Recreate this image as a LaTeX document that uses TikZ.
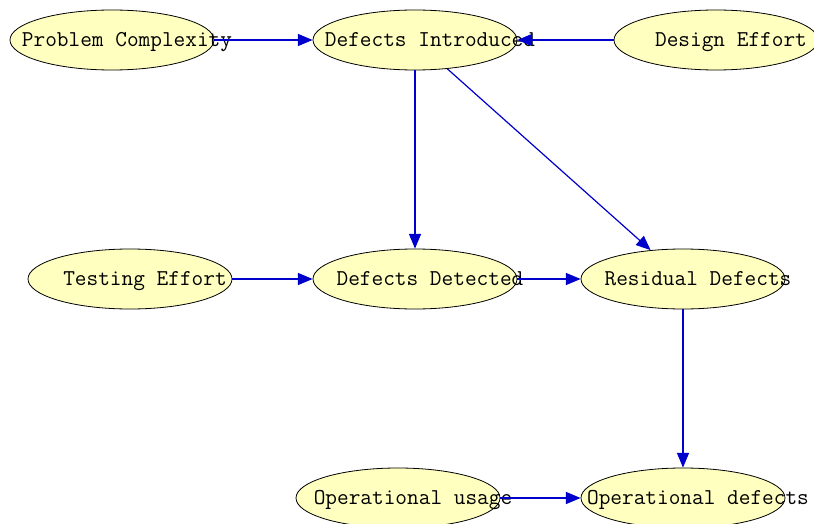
\documentclass[tikz,border=0pt]{standalone}
\usepackage{fontspec}
\usetikzlibrary{arrows.meta,shapes.geometric}
\definecolor{nodefill}{RGB}{255,255,192}
\definecolor{edgeblue}{RGB}{0,0,204}
\newcommand{\bnlabel}[1]{\makebox[0pt]{\hspace*{22.5pt}\smash{\raisebox{-5pt}{#1}}}}
\begin{document}
\begin{tikzpicture}[node distance=227.25pt,
	bn/.style = {draw, ellipse, fill=nodefill, line width=0.6pt, inner sep=0pt, minimum width=153pt, minimum height=45pt, font=\ttfamily\fontsize{17}{18}\selectfont},
	link/.style = {draw=edgeblue, line width=0.9pt, -{Triangle[length=11pt, width=9pt]}}]
				\useasboundingbox (0,0) rectangle (610.5pt,-393pt);

				\node[bn] (pc) at (84pt,-30pt) {\bnlabel{Problem Complexity}};
				\node[bn] (di) [right of=pc] {\bnlabel{Defects Introduced}};
				\node[bn, node distance=225.75pt] (de) [right of=di] {\bnlabel{Design Effort}};

				\node[bn, node distance=179.25pt] (dd) [below of=di] {\bnlabel{Defects Detected}};
				\node[bn, node distance=213.75pt] (te) [left of=dd] {\bnlabel{Testing Effort}};
				\node[bn, node distance=201pt] (rd) [right of=dd] {\bnlabel{Residual Defects}};

				\node[bn, node distance=164.25pt] (od) [below of=rd] {\bnlabel{Operational defects}};
				\node[bn, node distance=213.75pt] (ou) [left of=od] {\bnlabel{Operational usage}};

				\draw[link] (pc) -- (di);
				\draw[link] (de) -- (di);

				\draw[link] (di) -- (dd);
				\draw[link] (di) -- (rd);

				\draw[link] (te) -- (dd);
				\draw[link] (dd) -- (rd);

				\draw[link] (rd) -- (od);
				\draw[link] (ou) -- (od);

			\end{tikzpicture}
\end{document}
